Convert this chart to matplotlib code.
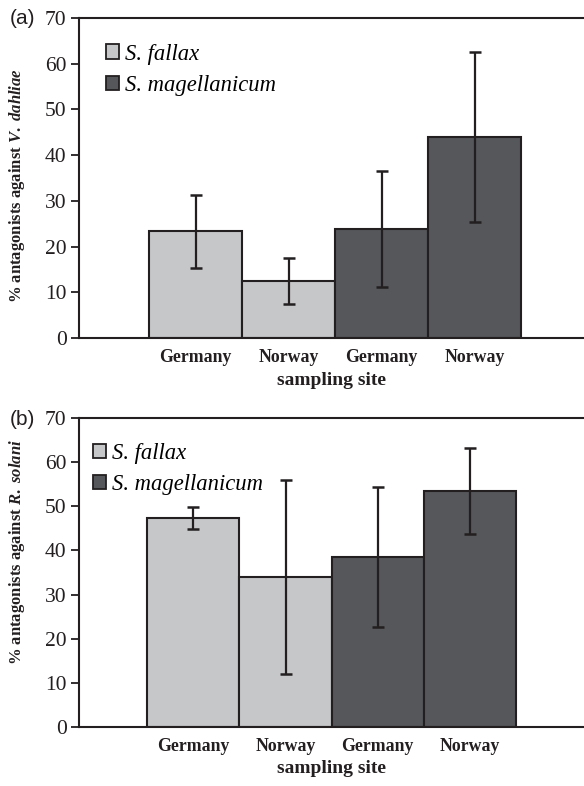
import matplotlib
matplotlib.use("Agg")
import matplotlib.pyplot as plt
from matplotlib.patches import Patch

plt.rcParams['font.family'] = ['Liberation Serif', 'DejaVu Serif']
plt.rcParams['mathtext.fontset'] = 'custom'
plt.rcParams['mathtext.it'] = 'Liberation Serif:italic:bold'
plt.rcParams['mathtext.rm'] = 'Liberation Serif:bold'

sites = ["Germany", "Norway", "Germany", "Norway"]
species = ["S. fallax", "S. fallax", "S. magellanicum", "S. magellanicum"]
legend_labels = ["S. fallax", "S. magellanicum"]

vd_values = [23.3, 12.5, 23.9, 44.0]
vd_errors = [8.0, 5.0, 12.7, 18.6]

rs_values = [47.3, 34.0, 38.6, 53.5]
rs_errors = [2.5, 22.0, 15.9, 9.7]

yticks = [0, 10, 20, 30, 40, 50, 60, 70]

colors = {"S. fallax": "#c6c7c9", "S. magellanicum": "#55575a"}
ink = "#231f20"

fig = plt.figure(figsize=(5.84, 7.86), dpi=100)
W, H = 584, 786

def make_panel(rect, values, errors, xlim, ylabel, tag, legpos, labely):
    l, t, r, b = rect
    ax = fig.add_axes([l / W, 1 - b / H, (r - l) / W, (b - t) / H])
    x = list(range(len(values)))
    ax.bar(x, values, width=1.0, color=[colors[s] for s in species],
           edgecolor=ink, linewidth=1.5, zorder=2)
    ax.errorbar(x, values, yerr=errors, fmt='none', ecolor=ink,
                elinewidth=1.6, capsize=4.3, capthick=1.8, zorder=3)
    ax.set_xlim(*xlim)
    ax.set_ylim(0, 70)
    ax.set_yticks(yticks)
    ax.set_yticklabels([str(v) for v in yticks], fontsize=15.5, color=ink)
    ax.set_xticks(x)
    ax.set_xticklabels(sites, fontsize=12.8, fontweight='bold', color=ink)
    ax.tick_params(axis='x', length=0, pad=8)
    ax.tick_params(axis='y', length=6, width=1.3, color=ink, pad=3)
    for s in ['left', 'top', 'bottom']:
        ax.spines[s].set_linewidth(1.5)
        ax.spines[s].set_color(ink)
    ax.spines['right'].set_visible(False)
    ax.set_xlabel("sampling site", fontsize=14, fontweight='bold', color=ink, labelpad=4)
    ax.set_ylabel(ylabel, fontsize=12, fontweight='bold', color=ink)
    ax.yaxis.set_label_coords(-0.103, labely)
    handles = [Patch(facecolor=colors[lab], edgecolor=ink, linewidth=1.3) for lab in legend_labels]
    ax.legend(handles, legend_labels, loc='upper left', bbox_to_anchor=legpos,
              frameon=False, prop={'family': 'Liberation Serif', 'style': 'italic', 'size': 16.3},
              handlelength=0.6, handleheight=0.6, handletextpad=0.25,
              labelspacing=0.45, borderpad=0, borderaxespad=0)
    fig.text(10 / W, 1 - (t + 1) / H, tag, fontsize=15, family='Liberation Sans',
             ha='left', va='center', color=ink)
    return ax

make_panel((79, 18, 584, 338), vd_values, vd_errors, (-1.253, 4.177),
           r"% antagonists against $V.\ dahliae$", "(a)", (0.053, 0.92), 0.475)
make_panel((79, 418.3, 584, 726.7), rs_values, rs_errors, (-1.24, 4.237),
           r"% antagonists against $R.\ solani$", "(b)", (0.027, 0.92), 0.566)

fig.savefig("out.png", dpi=100)
